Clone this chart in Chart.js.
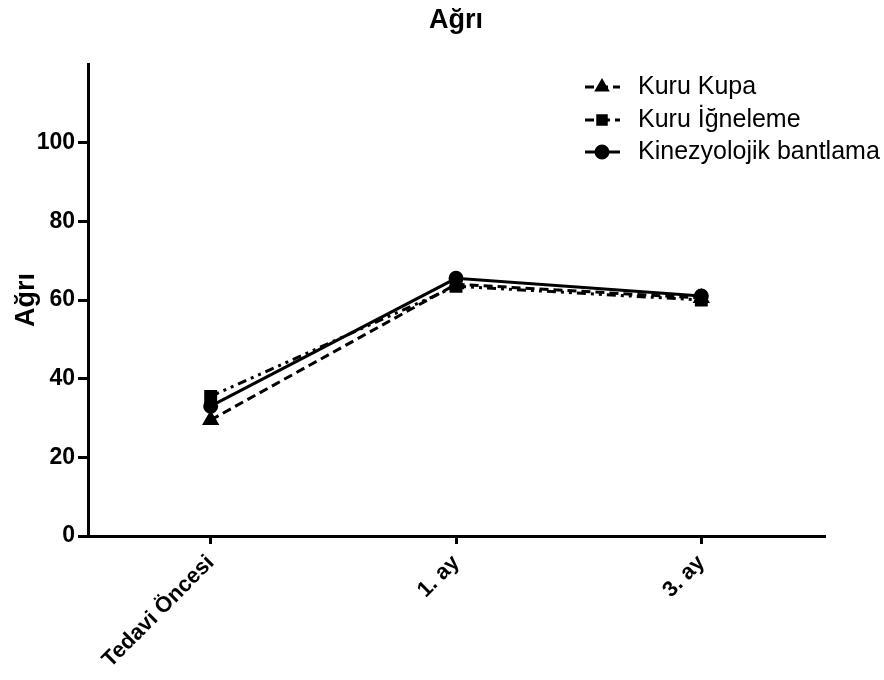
<!DOCTYPE html>
<html lang="tr">
<head>
    <meta charset="UTF-8">
    <title>Ağrı</title>
    <script src="https://cdn.jsdelivr.net/npm/chart.js"></script>
    <style>
        body { margin: 0; background: #fff; }
        #wrap { width: 884px; height: 680px; }
    </style>
</head>
<body>
<div id="wrap"><canvas id="myChart" width="884" height="680"></canvas></div>
<script>
// data
const categories = ['Tedavi Öncesi', '1. ay', '3. ay'];
const kuruKupa = [29.5, 64, 60.5];
const kuruIgneleme = [35.5, 63.5, 60];
const kinezyolojik = [33, 65.5, 61];
const yTicks = [0, 20, 40, 60, 80, 100];

const FONT = "'Liberation Sans', Arial, sans-serif";

// title + legend drawn by hand, the way the original plot has them
const extras = {
    id: 'extras',
    afterDraw(chart) {
        const ctx = chart.ctx;
        const area = chart.chartArea;
        ctx.save();
        ctx.fillStyle = '#000';
        ctx.font = 'bold 27px ' + FONT;
        ctx.textAlign = 'center';
        ctx.textBaseline = 'middle';
        ctx.fillText('Ağrı', (area.left + area.right) / 2, 21);

        const rows = [87, 120, 152];
        chart.data.datasets.forEach((ds, i) => {
            const y = rows[i];
            ctx.strokeStyle = '#000';
            ctx.lineWidth = 3;
            ctx.setLineDash(ds.borderDash || []);
            ctx.beginPath();
            ctx.moveTo(585, y);
            ctx.lineTo(620, y);
            ctx.stroke();
            ctx.setLineDash([]);
            Chart.helpers.drawPoint(ctx, {
                pointStyle: ds.pointStyle, radius: 6, rotation: 0, borderWidth: 1
            }, 602, y);
            ctx.fillStyle = '#000';
            ctx.fill();
            ctx.font = '25px ' + FONT;
            ctx.textAlign = 'left';
            ctx.fillText(ds.label, 638, y);
        });
        ctx.restore();
    }
};

const ctx = document.getElementById('myChart').getContext('2d');
const myChart = new Chart(ctx, {
    type: 'line',
    data: {
        labels: categories,
        datasets: [
            {
                label: 'Kuru Kupa',
                data: kuruKupa,
                borderColor: '#000',
                backgroundColor: '#000',
                borderWidth: 3,
                borderDash: [9, 5],
                pointStyle: 'triangle',
                pointRadius: 7
            },
            {
                label: 'Kuru İğneleme',
                data: kuruIgneleme,
                borderColor: '#000',
                backgroundColor: '#000',
                borderWidth: 3,
                borderDash: [9, 5, 3, 5, 3, 5],
                pointStyle: 'rect',
                pointRadius: 7
            },
            {
                label: 'Kinezyolojik bantlama',
                data: kinezyolojik,
                borderColor: '#000',
                backgroundColor: '#000',
                borderWidth: 3,
                pointStyle: 'circle',
                pointRadius: 6
            }
        ]
    },
    options: {
        responsive: false,
        animation: false,
        layout: { padding: { top: 64, right: 60, left: 0, bottom: 0 } },
        plugins: {
            legend: { display: false },
            title: { display: false },
            tooltip: { enabled: false }
        },
        scales: {
            x: {
                offset: true,
                grid: { offset: false, drawOnChartArea: false, tickLength: 8, color: '#000', lineWidth: 3 },
                border: { color: '#000', width: 3 },
                ticks: {
                    color: '#000',
                    font: { family: FONT, size: 22, weight: 'bold' },
                    minRotation: 45,
                    maxRotation: 45,
                    padding: 6
                },
                afterFit: s => { s.height = 144; }
            },
            y: {
                min: 0,
                max: 120,
                afterBuildTicks: s => { s.ticks = yTicks.map(v => ({ value: v })); },
                grid: { drawOnChartArea: false, tickLength: 10, color: '#000', lineWidth: 3 },
                border: { color: '#000', width: 3 },
                ticks: {
                    color: '#000',
                    font: { family: FONT, size: 23, weight: 'bold' },
                    padding: 3
                },
                title: {
                    display: true,
                    text: 'Ağrı',
                    color: '#000',
                    font: { family: FONT, size: 27, weight: 'bold' },
                    padding: { top: 10, bottom: 0 }
                },
                afterFit: s => { s.width = 88; }
            }
        }
    },
    plugins: [extras]
});
</script>
</body>
</html>
